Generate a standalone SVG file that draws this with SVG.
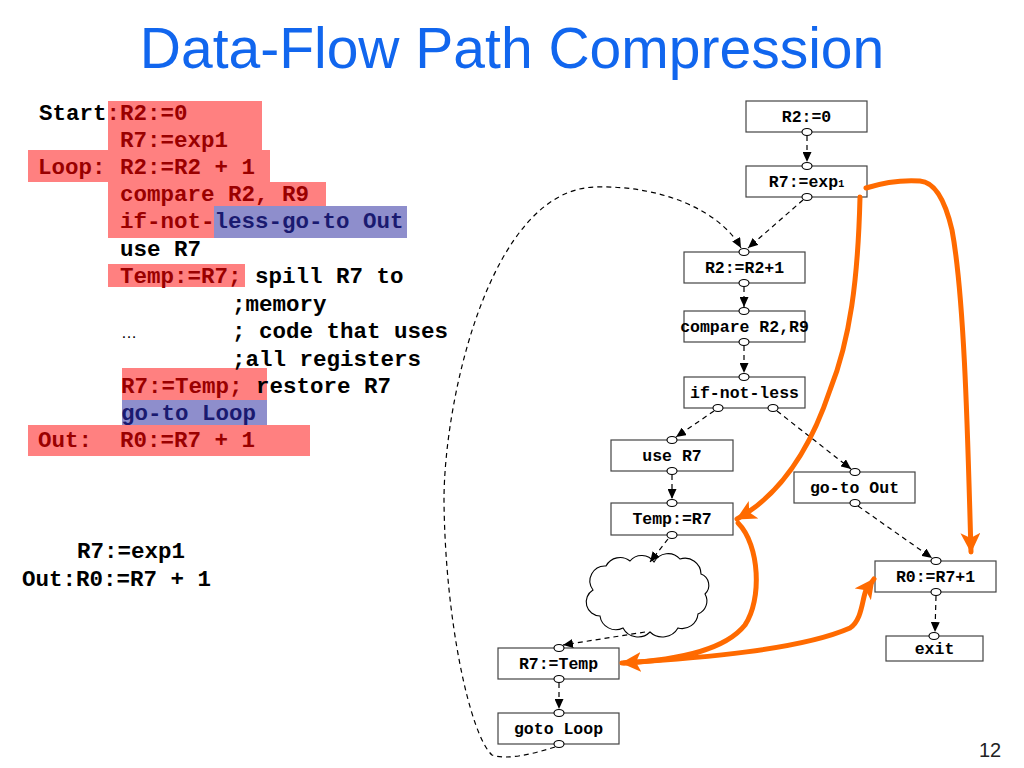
<svg xmlns="http://www.w3.org/2000/svg" width="1024" height="768" viewBox="0 0 1024 768">
<defs>
<style>
.code{font-family:"Liberation Mono","Courier New",monospace;font-weight:bold;font-size:22.5px;fill:#000}
.r{fill:#9a0000}
.b{fill:#1a1a70}
.hr{fill:#ff8080}
.hb{fill:#8e8ecc}
.box{fill:#fff;stroke:#444;stroke-width:1.2}
.port{fill:#fff;stroke:#000;stroke-width:1.1}
.nt{font-family:"Liberation Mono","Courier New",monospace;font-weight:bold;font-size:16.5px;fill:#000;text-anchor:middle}
.dash{fill:none;stroke:#000;stroke-width:1.2;stroke-dasharray:5 4}
.or{fill:none;stroke:#ff6a00;stroke-width:5;stroke-linecap:round}
</style>
<marker id="ah" markerUnits="userSpaceOnUse" markerWidth="11" markerHeight="9" refX="10" refY="4.5" orient="auto">
<path d="M0,0 L10,4.5 L0,9 z" fill="#000"/>
</marker>
<marker id="oh" markerUnits="userSpaceOnUse" markerWidth="24" markerHeight="20" refX="19" refY="10" orient="auto">
<path d="M0,0 L20,10 L0,20 L5,10 z" fill="#ff6a00"/>
</marker>
</defs>
<rect width="1024" height="768" fill="#fff"/>
<text x="512" y="68" text-anchor="middle" font-family="Liberation Sans, Arial, sans-serif" font-size="57" fill="#1166ee">Data-Flow Path Compression</text>

<g id="code">
<rect class="hr" x="108" y="101" width="154" height="50"/>
<rect class="hr" x="28" y="150" width="242" height="32"/>
<rect class="hr" x="108" y="182" width="218" height="25"/>
<rect class="hr" x="108" y="206" width="106" height="32"/>
<rect class="hb" x="214" y="206" width="193" height="32"/>
<rect class="hr" x="108" y="264" width="137" height="23"/>
<rect class="hr" x="122" y="368" width="145" height="32"/>
<rect class="hb" x="122" y="400" width="145" height="25"/>
<rect class="hr" x="28" y="425" width="282" height="31"/>
<text class="code" x="39" y="120">Start<tspan class="r">:R2:=0</tspan></text>
<text class="code r" x="120" y="147">R7:=exp1</text>
<text class="code r" x="38" y="174">Loop:</text>
<text class="code r" x="120" y="174">R2:=R2 + 1</text>
<text class="code r" x="120" y="201">compare R2, R9</text>
<text class="code" x="120" y="228"><tspan class="r">if-not-</tspan><tspan class="b">less-go-to Out</tspan></text>
<text class="code" x="120" y="256">use R7</text>
<text class="code" x="120" y="283"><tspan class="r">Temp:=R7;</tspan> spill R7 to</text>
<text class="code" x="232" y="311">;memory</text>
<text x="121" y="338" font-family="Liberation Sans, Arial, sans-serif" font-size="16" fill="#000">…</text>
<text class="code" x="232" y="338">; code that uses</text>
<text class="code" x="232" y="366">;all registers</text>
<text class="code" x="121" y="393"><tspan class="r">R7:=Temp;</tspan> restore R7</text>
<text class="code b" x="121" y="420">go-to Loop</text>
<text class="code r" x="38" y="447">Out:</text>
<text class="code r" x="120" y="447">R0:=R7 + 1</text>
<text class="code" x="77" y="558">R7:=exp1</text>
<text class="code" x="22" y="586">Out:R0:=R7 + 1</text>
</g>

<g id="n_r2_0"><rect class="box" x="746" y="101" width="121" height="31"/><text class="nt" x="806.5" y="122">R2:=0</text><ellipse class="port" cx="807" cy="132" rx="5" ry="3.5"/></g>
<g id="n_r7_exp"><rect class="box" x="746" y="166" width="121" height="31"/><text class="nt" x="806.5" y="187">R7:=exp<tspan font-size="10">1</tspan></text><ellipse class="port" cx="807" cy="166" rx="5" ry="3.5"/><ellipse class="port" cx="807" cy="197" rx="5" ry="3.5"/></g>
<g id="n_r2_inc"><rect class="box" x="684" y="252" width="121" height="31"/><text class="nt" x="744.5" y="273">R2:=R2+1</text><ellipse class="port" cx="744" cy="252" rx="5" ry="3.5"/><ellipse class="port" cx="744" cy="283" rx="5" ry="3.5"/></g>
<g id="n_compare"><rect class="box" x="684" y="311" width="121" height="31"/><text class="nt" x="744.5" y="332">compare R2,R9</text><ellipse class="port" cx="744" cy="311" rx="5" ry="3.5"/><ellipse class="port" cx="744" cy="342" rx="5" ry="3.5"/></g>
<g id="n_ifnot"><rect class="box" x="684" y="377" width="121" height="31"/><text class="nt" x="744.5" y="398">if-not-less</text><ellipse class="port" cx="744" cy="377" rx="5" ry="3.5"/><ellipse class="port" cx="718" cy="408" rx="5" ry="3.5"/><ellipse class="port" cx="773" cy="408" rx="5" ry="3.5"/></g>
<g id="n_use"><rect class="box" x="611" y="440" width="122" height="31"/><text class="nt" x="672" y="461">use R7</text><ellipse class="port" cx="672" cy="440" rx="5" ry="3.5"/><ellipse class="port" cx="672" cy="471" rx="5" ry="3.5"/></g>
<g id="n_temp"><rect class="box" x="611" y="503" width="122" height="32"/><text class="nt" x="672" y="524">Temp:=R7</text><ellipse class="port" cx="672" cy="503" rx="5" ry="3.5"/><ellipse class="port" cx="672" cy="535" rx="5" ry="3.5"/></g>
<g id="n_gotoout"><rect class="box" x="794" y="472" width="121" height="31"/><text class="nt" x="854.5" y="493">go-to Out</text><ellipse class="port" cx="855" cy="472" rx="5" ry="3.5"/><ellipse class="port" cx="855" cy="503" rx="5" ry="3.5"/></g>
<g id="n_r0"><rect class="box" x="875" y="561" width="121" height="31"/><text class="nt" x="935.5" y="582">R0:=R7+1</text><ellipse class="port" cx="936" cy="561" rx="5" ry="3.5"/><ellipse class="port" cx="936" cy="592" rx="5" ry="3.5"/></g>
<g id="n_exit"><rect class="box" x="886" y="636" width="97" height="25"/><text class="nt" x="934.5" y="654">exit</text><ellipse class="port" cx="934" cy="636" rx="5" ry="3.5"/></g>
<g id="n_cloud"><path d="M593,590 A15,15 0 0,1 606,566 A16,16 0 0,1 630,561 A15,15 0 0,1 654,562 A16,16 0 0,1 680,559 A16,16 0 0,1 701,574 A12,12 0 0,1 705,594 A14,14 0 0,1 698,614 A16,16 0 0,1 678,628 A18,18 0 0,1 650,632 A17,17 0 0,1 623,628 A16,16 0 0,1 600,616 A14,14 0 0,1 593,590 Z" fill="#fff" stroke="#000" stroke-width="1.1"/></g>
<g id="n_r7temp"><rect class="box" x="498" y="648" width="121" height="31"/><text class="nt" x="558.5" y="669">R7:=Temp</text><ellipse class="port" cx="559" cy="648" rx="5" ry="3.5"/><ellipse class="port" cx="559" cy="679" rx="5" ry="3.5"/></g>
<g id="n_gotoloop"><rect class="box" x="498" y="713" width="121" height="31"/><text class="nt" x="558.5" y="734">goto Loop</text><ellipse class="port" cx="559" cy="713" rx="5" ry="3.5"/><ellipse class="port" cx="559" cy="744" rx="5" ry="3.5"/></g>

<g id="connectors">
<path class="dash" d="M807,136 L807,162" marker-end="url(#ah)"/>
<path class="dash" d="M803,200 L748,248" marker-end="url(#ah)"/>
<path class="dash" d="M555,747 C530,755 505,760 492,755 C470,735 445,620 444,500 C444,400 490,190 595,187 C660,185 720,210 741,248" marker-end="url(#ah)"/>
<path class="dash" d="M744,287 L744,307" marker-end="url(#ah)"/>
<path class="dash" d="M744,346 L744,373" marker-end="url(#ah)"/>
<path class="dash" d="M714,411 L676,437" marker-end="url(#ah)"/>
<path class="dash" d="M777,411 L851,469" marker-end="url(#ah)"/>
<path class="dash" d="M672,475 L672,499" marker-end="url(#ah)"/>
<path class="dash" d="M668,539 L650,562" marker-end="url(#ah)"/>
<path class="dash" d="M645,632 L563,645" marker-end="url(#ah)"/>
<path class="dash" d="M559,683 L559,709" marker-end="url(#ah)"/>
<path class="dash" d="M858,506 L932,558" marker-end="url(#ah)"/>
<path class="dash" d="M936,596 L935,632" marker-end="url(#ah)"/>
<path class="or" d="M866,188 C885,182 905,180 920,181 C935,182 945,200 952,230 C965,300 968,450 971,552" marker-end="url(#oh)"/>
<path class="or" d="M860,197 C858,280 850,340 830,390 C810,450 780,495 737,519" marker-end="url(#oh)"/>
<path class="or" d="M738,523 C760,545 762,600 745,625 C725,650 680,660 622,663" marker-end="url(#oh)"/>
<path class="or" d="M624,663 C700,658 800,650 850,628 C862,620 862,600 866,590 L874,579" marker-end="url(#oh)"/>
</g>
<text x="990" y="757" font-family="Liberation Sans, Arial, sans-serif" font-size="20" fill="#222" text-anchor="middle">12</text>
</svg>
